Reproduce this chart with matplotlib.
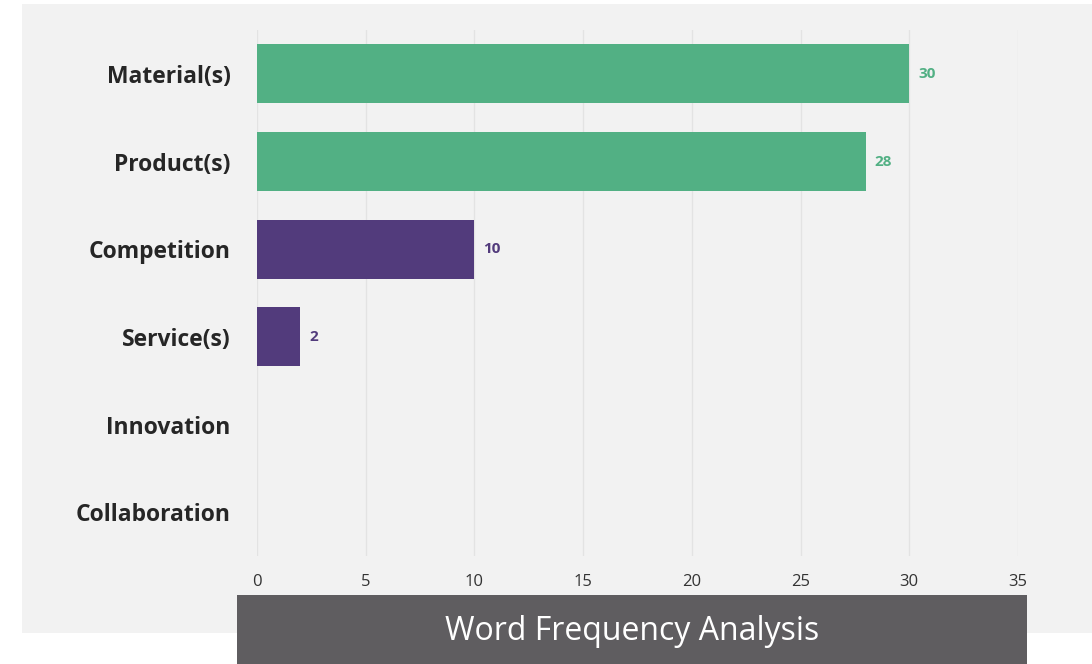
import matplotlib.pyplot as plt
from matplotlib.patches import Rectangle

# word counts
words = ["Material(s)", "Product(s)", "Competition", "Service(s)", "Innovation", "Collaboration"]
counts = [30, 28, 10, 2, 0, 0]
bar_colors = ["#52b084", "#52b084", "#523b7c", "#523b7c", "#523b7c", "#523b7c"]
xticks = [0, 5, 10, 15, 20, 25, 30, 35]

W, H = 1092, 664
fig = plt.figure(figsize=(W / 100, H / 100), dpi=100)
fig.patch.set_facecolor("white")

# light gray panel behind the chart
fig.patches.append(Rectangle((22 / W, 1 - 633 / H), (W - 22) / W, (633 - 4) / H,
                             transform=fig.transFigure, facecolor="#f2f2f2",
                             edgecolor="none", zorder=-10))

ax = fig.add_axes([257 / W, 1 - 556 / H, (1018 - 257) / W, (556 - 30) / H])
ax.set_facecolor("none")

y = range(len(words))
ax.barh(y, counts, height=0.67, color=bar_colors, zorder=3)
for i, c in enumerate(counts):
    if c > 0:
        ax.text(c + 0.4, i, str(c), va="center", ha="left", fontsize=11,
                fontweight="bold", color=bar_colors[i], family="Open Sans")

ax.set_xlim(0, 35)
ax.set_ylim(len(words) - 0.5, -0.5)
ax.set_xticks(xticks)
ax.set_yticks(list(y))
ax.set_yticklabels(words, fontsize=16.5, fontweight="bold", color="#262626", family="Open Sans")
for lbl in ax.get_xticklabels():
    lbl.set_family("Open Sans")
ax.tick_params(axis="x", length=0, pad=13, labelsize=12, labelcolor="#333333")
ax.tick_params(axis="y", length=0, pad=19)
ax.grid(axis="x", color="#e3e3e3", linewidth=1, zorder=0)
for s in ax.spines.values():
    s.set_visible(False)

# title bar at the bottom
fig.patches.append(Rectangle((237 / W, 0), (1027 - 237) / W, (664 - 595) / H,
                             transform=fig.transFigure, facecolor="#5f5d60",
                             edgecolor="none", zorder=5))
fig.text((237 + 1027) / 2 / W, 1 - 632 / H, "Word Frequency Analysis", ha="center", va="center",
         fontsize=23, color="white", family="Open Sans", zorder=6)

plt.savefig("out.png", dpi=100)
